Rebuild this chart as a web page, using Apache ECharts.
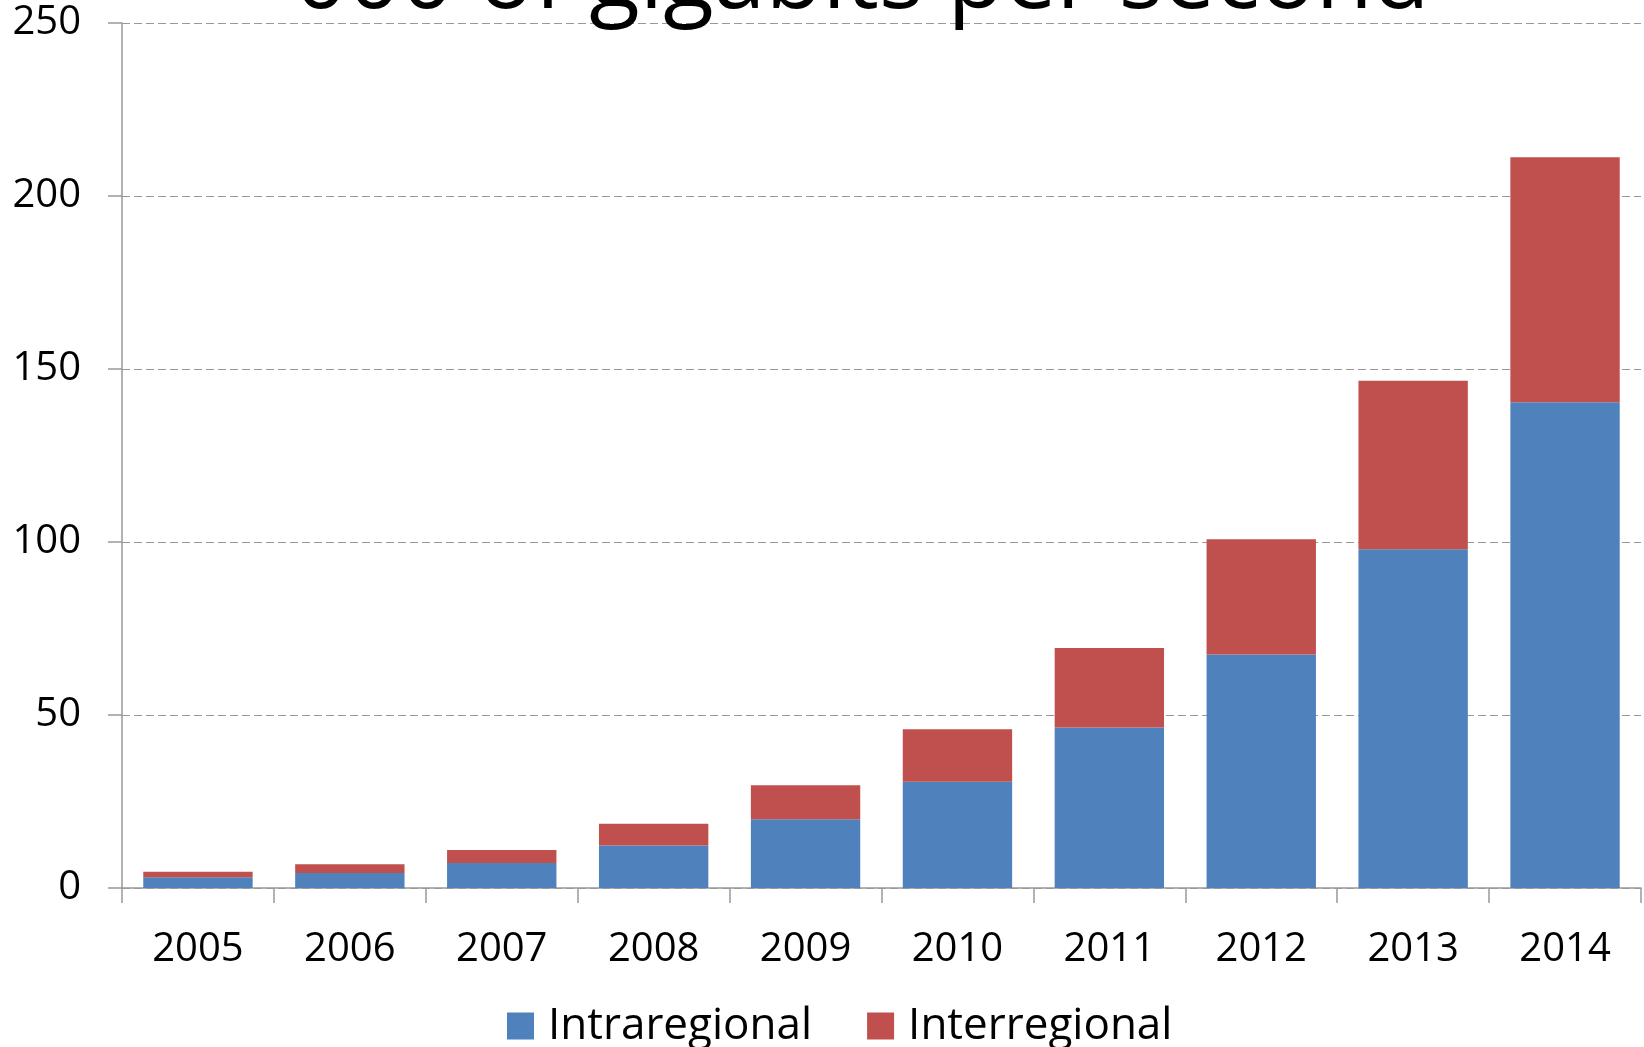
<!DOCTYPE html>
<html>
<head>
<meta charset="utf-8">
<script src="https://cdn.jsdelivr.net/npm/echarts@6/dist/echarts.min.js"></script>
<style>
html,body{margin:0;padding:0;background:#fff;}
#chart{width:1644px;height:1047px;}
</style>
</head>
<body>
<div id="chart"></div>
<script>
const titleText = '000 of gigabits per second';
const years = ['2005','2006','2007','2008','2009','2010','2011','2012','2013','2014'];
const intraregional = [3.1, 4.3, 7.2, 12.3, 19.9, 30.7, 46.4, 67.5, 97.9, 140.4];
const interregional = [1.6, 2.6, 3.8, 6.3, 9.8, 15.2, 23.0, 33.3, 48.7, 70.8];
const seriesNames = ['Intraregional', 'Interregional'];
const yTicks = [0, 50, 100, 150, 200, 250];

const FONT = '"Open Sans", sans-serif';
const chart = echarts.init(document.getElementById('chart'), null, {renderer: 'canvas'});
chart.setOption({
  animation: false,
  backgroundColor: '#ffffff',
  textStyle: {fontFamily: FONT},
  graphic: [{
    type: 'text',
    x: 862,
    y: 28,
    z: 100,
    style: {
      text: titleText,
      font: '93px ' + FONT,
      fill: '#000',
      textAlign: 'center',
      textVerticalAlign: 'bottom'
    }
  }],
  grid: {left: 122, right: 3, top: 23, bottom: 159, containLabel: false},
  legend: {
    data: seriesNames,
    left: 507,
    top: 1004,
    itemWidth: 27,
    itemHeight: 27,
    itemGap: 55,
    icon: 'rect',
    textStyle: {fontSize: 44, color: '#000', fontFamily: FONT, padding: [0, 0, 0, 9]},
    padding: 0
  },
  xAxis: {
    type: 'category',
    data: years,
    axisLine: {lineStyle: {color: '#999', width: 1.5}},
    axisTick: {show: true, length: 15, lineStyle: {color: '#999', width: 1.5}},
    axisLabel: {fontSize: 40, color: '#000', margin: 42, fontFamily: FONT},
    splitLine: {show: false}
  },
  yAxis: {
    type: 'value',
    min: yTicks[0],
    max: yTicks[yTicks.length - 1],
    interval: 50,
    axisLine: {show: true, lineStyle: {color: '#999', width: 1.5}},
    axisTick: {show: true, length: 14, lineStyle: {color: '#999', width: 1.5}},
    axisLabel: {fontSize: 40, color: '#000', margin: 41, fontFamily: FONT},
    splitLine: {show: true, lineStyle: {color: '#999', type: [8, 4], width: 1.2}}
  },
  series: [
    {
      name: seriesNames[0],
      type: 'bar',
      stack: 'total',
      data: intraregional,
      barCategoryGap: '28%',
      itemStyle: {color: '#4F81BD'}
    },
    {
      name: seriesNames[1],
      type: 'bar',
      stack: 'total',
      data: interregional,
      barCategoryGap: '28%',
      itemStyle: {color: '#C0504D'}
    }
  ]
});
</script>
</body>
</html>
